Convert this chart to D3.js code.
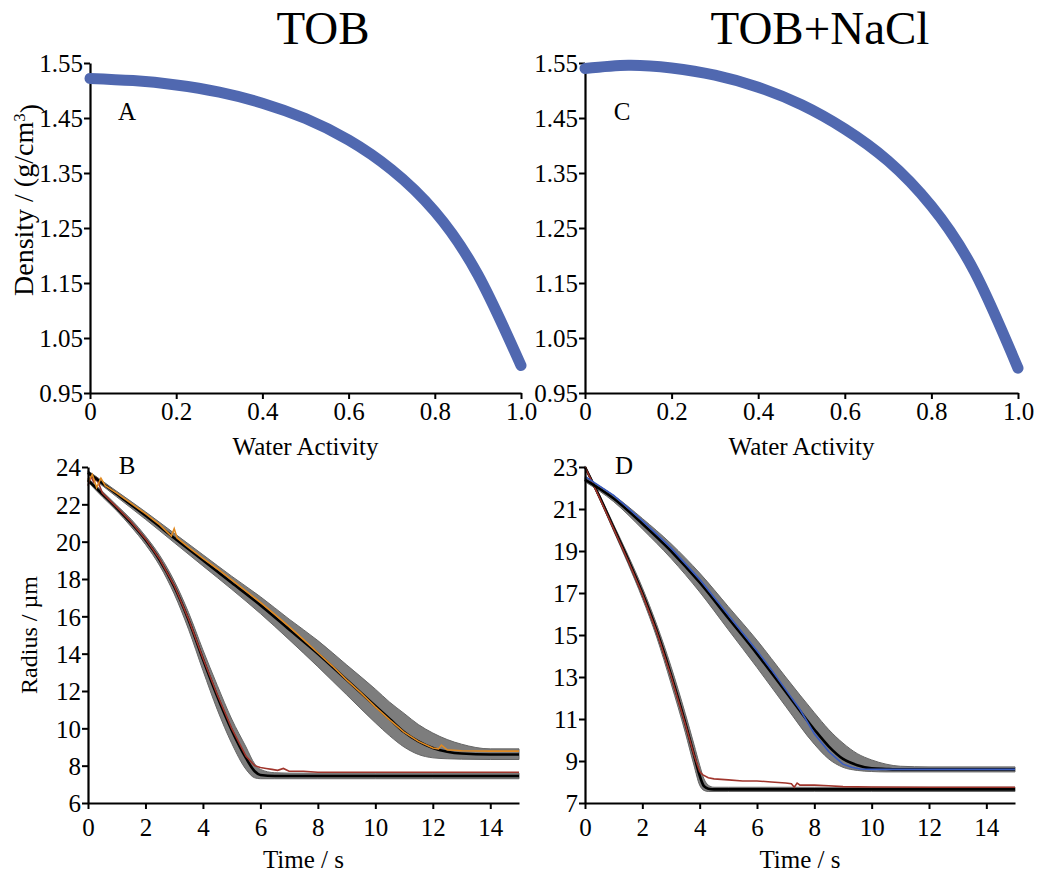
<!DOCTYPE html>
<html>
<head>
<meta charset="utf-8">
<script src="https://cdn.jsdelivr.net/npm/d3@7"></script>
<style>
  html, body { margin: 0; padding: 0; background: #fff; }
  svg { display: block; }
  text { font-family: "Liberation Serif", "Times New Roman", serif; fill: #000; }
</style>
</head>
<body>
<svg id="fig" width="1037" height="872"></svg>
<script>
// ---- Density vs water activity ----
const awTOB = [0, 0.1, 0.2, 0.3, 0.4, 0.5, 0.6, 0.7, 0.8, 0.9, 1.0];
const densTOB = [1.522, 1.518, 1.510, 1.497, 1.477, 1.449, 1.410, 1.356, 1.280, 1.165, 1.000];
const awNaCl = [0, 0.1, 0.2, 0.3, 0.4, 0.5, 0.6, 0.7, 0.8, 0.9, 1.0];
const densNaCl = [1.540, 1.546, 1.541, 1.528, 1.506, 1.474, 1.430, 1.372, 1.290, 1.170, 0.995];
const densTicks = [0.95, 1.05, 1.15, 1.25, 1.35, 1.45, 1.55];
const awTicks = [0, 0.2, 0.4, 0.6, 0.8, 1.0];
const awTickLabels = ["0", "0.2", "0.4", "0.6", "0.8", "1.0"];

// ---- Panel B: TOB radius vs time ----
const tB_fast = [0, 0.5, 1, 1.5, 2, 2.5, 3, 3.5, 4, 4.5, 5, 5.5, 5.8, 6, 6.5, 7, 8, 10, 12, 15];
const rB_fastFit = [23.3, 22.55, 21.8, 21.0, 20.1, 19.0, 17.6, 15.8, 13.7, 11.7, 9.9, 8.4, 7.7, 7.5, 7.45, 7.45, 7.45, 7.45, 7.45, 7.45];
const rB_fastHi = [23.4, 22.7, 21.95, 21.2, 20.3, 19.25, 17.9, 16.2, 14.2, 12.3, 10.5, 9.0, 8.1, 7.8, 7.62, 7.6, 7.6, 7.6, 7.6, 7.6];
const rB_fastLo = [23.2, 22.4, 21.65, 20.8, 19.85, 18.7, 17.2, 15.3, 13.1, 11.0, 9.2, 7.8, 7.35, 7.3, 7.3, 7.3, 7.3, 7.3, 7.3, 7.3];
const tB_fastExp = [0, 0.1, 0.2, 0.3, 0.5, 1, 1.5, 2, 2.5, 3, 3.5, 4, 4.5, 5, 5.5, 5.8, 6.0, 6.2, 6.4, 6.6, 6.8, 7.0, 7.5, 8, 10, 12, 15];
const rB_fastExp = [23.0, 23.5, 23.2, 23.4, 22.6, 21.85, 21.05, 20.15, 19.05, 17.65, 15.85, 13.75, 11.8, 10.0, 8.5, 8.0, 7.9, 7.85, 7.8, 7.75, 7.85, 7.7, 7.7, 7.65, 7.65, 7.65, 7.65];

const tB_slow = [0, 1, 2, 3, 4, 5, 6, 7, 8, 9, 10, 10.5, 11, 11.5, 12, 12.5, 13, 14, 15];
const rB_slowFit = [23.7, 22.55, 21.4, 20.2, 19.0, 17.8, 16.6, 15.3, 14.0, 12.6, 11.2, 10.5, 9.8, 9.3, 8.95, 8.75, 8.65, 8.6, 8.6];
const rB_slowHi = [23.8, 22.7, 21.6, 20.45, 19.3, 18.15, 17.05, 15.85, 14.7, 13.4, 12.1, 11.4, 10.8, 10.2, 9.75, 9.4, 9.15, 8.9, 8.9];
const rB_slowLo = [23.6, 22.4, 21.2, 19.95, 18.7, 17.45, 16.15, 14.75, 13.3, 11.8, 10.3, 9.6, 9.0, 8.6, 8.42, 8.37, 8.35, 8.33, 8.33];
const tB_slowExp = [0, 0.15, 0.3, 0.45, 0.6, 1, 1.5, 2, 2.5, 2.9, 3.0, 3.1, 3.5, 4, 4.5, 5, 5.5, 6, 6.5, 7, 7.5, 8, 8.5, 9, 9.5, 10, 10.5, 11, 11.5, 12, 12.2, 12.3, 12.5, 13, 14, 15];
const rB_slowExp = [23.2, 23.6, 22.9, 23.4, 23.0, 22.6, 22.05, 21.5, 20.9, 20.3, 20.7, 20.2, 19.7, 19.1, 18.55, 17.95, 17.35, 16.75, 16.1, 15.45, 14.75, 14.05, 13.35, 12.6, 11.9, 11.15, 10.45, 9.8, 9.3, 8.95, 8.9, 9.1, 8.85, 8.8, 8.78, 8.78];
const radiusTicksB = [6, 8, 10, 12, 14, 16, 18, 20, 22, 24];

// ---- Panel D: TOB+NaCl radius vs time ----
const tD_fast = [0, 0.5, 1, 1.5, 2, 2.5, 3, 3.5, 3.8, 4.0, 4.15, 4.3, 4.5, 5, 6, 8, 10, 15];
const rD_fastFit = [23.0, 21.6, 20.1, 18.6, 17.0, 15.2, 13.1, 10.8, 9.3, 8.3, 7.8, 7.68, 7.65, 7.65, 7.65, 7.65, 7.65, 7.65];
const rD_fastHi = [23.05, 21.7, 20.25, 18.8, 17.25, 15.5, 13.5, 11.25, 9.8, 8.8, 8.15, 7.85, 7.75, 7.75, 7.75, 7.75, 7.75, 7.75];
const rD_fastLo = [22.95, 21.5, 19.95, 18.4, 16.75, 14.9, 12.7, 10.35, 8.8, 7.85, 7.6, 7.55, 7.55, 7.55, 7.55, 7.55, 7.55, 7.55];
const tD_fastExp = [0, 0.5, 1, 1.5, 2, 2.5, 3, 3.5, 3.8, 4.0, 4.1, 4.3, 4.5, 5, 5.5, 6, 6.5, 7, 7.2, 7.3, 7.4, 7.5, 8, 8.5, 9, 10, 12, 15];
const rD_fastExp = [23.0, 21.55, 20.05, 18.55, 16.95, 15.15, 13.05, 10.75, 9.3, 8.5, 8.35, 8.2, 8.15, 8.1, 8.05, 8.05, 8.0, 7.95, 7.92, 7.75, 7.95, 7.85, 7.85, 7.82, 7.78, 7.76, 7.75, 7.75];

const tD_slow = [0, 1, 2, 3, 4, 5, 6, 7, 8, 8.5, 9, 9.5, 10, 10.5, 11, 12, 15];
const rD_slowFit = [22.4, 21.5, 20.3, 19.0, 17.5, 15.8, 14.1, 12.3, 10.5, 9.7, 9.1, 8.8, 8.65, 8.62, 8.6, 8.6, 8.6];
const rD_slowHi = [22.5, 21.65, 20.55, 19.35, 17.95, 16.35, 14.75, 13.0, 11.3, 10.5, 9.85, 9.35, 9.05, 8.85, 8.75, 8.72, 8.72];
const rD_slowLo = [22.3, 21.35, 20.05, 18.65, 17.05, 15.25, 13.45, 11.6, 9.8, 9.1, 8.7, 8.55, 8.5, 8.48, 8.48, 8.48, 8.48];
const tD_slowExp = [0, 0.5, 1, 1.5, 2, 2.5, 3, 3.5, 4, 4.5, 5, 5.5, 6, 6.5, 7, 7.5, 8, 8.5, 9, 9.3, 9.6, 10, 11, 12, 15];
const rD_slowExp = [22.55, 22.1, 21.65, 21.05, 20.45, 19.8, 19.15, 18.4, 17.65, 16.8, 15.95, 15.1, 14.25, 13.35, 12.4, 11.45, 10.3, 9.45, 8.85, 8.7, 8.62, 8.6, 8.6, 8.6, 8.6];
const radiusTicksD = [7, 9, 11, 13, 15, 17, 19, 21, 23];
const timeTicks = [0, 2, 4, 6, 8, 10, 12, 14];

const svg = d3.select("#fig");
const zip = (xs, ys) => xs.map((x, i) => [x, ys[i]]);

function axes(g, x, y, xTicks, xFmt, yTicks, yFmt, xPad) {
  const ax = g.append("g").attr("transform", `translate(0,${y.range()[0]})`)
    .call(d3.axisBottom(x).tickValues(xTicks).tickFormat(xFmt).tickSize(6).tickSizeOuter(0).tickPadding(xPad));
  const ay = g.append("g").attr("transform", `translate(${x.range()[0]},0)`)
    .call(d3.axisLeft(y).tickValues(yTicks).tickFormat(yFmt).tickSize(6).tickSizeOuter(0).tickPadding(1));
  [ax, ay].forEach(a => {
    a.select(".domain").attr("stroke", "#000").attr("stroke-width", 2.2);
    a.selectAll(".tick line").attr("stroke", "#000").attr("stroke-width", 2);
    a.selectAll(".tick text").style("font-family", "Liberation Serif, serif").style("font-size", "25px").attr("fill", "#000");
  });
  ay.selectAll(".tick text").attr("dy", "0.35em");
  ax.selectAll(".tick text").attr("dy", "0.65em");
}

function densityPanel(x0, x1, aw, dens, letter) {
  const x = d3.scaleLinear().domain([0, 1]).range([x0, x1]);
  const y = d3.scaleLinear().domain([0.95, 1.55]).range([393, 63]);
  const g = svg.append("g");
  axes(g, x, y, awTicks, (d, i) => awTickLabels[i], densTicks, d3.format(".2f"), 5);
  g.append("path")
    .datum(zip(aw, dens))
    .attr("fill", "none").attr("stroke", "#5068b0").attr("stroke-width", 11)
    .attr("stroke-linecap", "round")
    .attr("d", d3.line().x(d => x(d[0])).y(d => y(d[1])).curve(d3.curveNatural));
  g.append("text").attr("x", x0 + 37).attr("y", 120).attr("text-anchor", "middle")
    .style("font-size", "25px").text(letter);
  g.append("text").attr("x", (x0 + x1) / 2).attr("y", 455).attr("text-anchor", "middle")
    .style("font-size", "25px").text("Water Activity");
  return { x, y };
}

function radiusPanel(x0, x1, yDom, yRange, yTicks, letter, series) {
  const x = d3.scaleLinear().domain([0, 15]).range([x0, x1]);
  const y = d3.scaleLinear().domain(yDom).range(yRange);
  const g = svg.append("g");
  const area = d3.area().x(d => x(d[0])).y0(d => y(d[1])).y1(d => y(d[2])).curve(d3.curveMonotoneX);
  const smooth = d3.line().x(d => x(d[0])).y(d => y(d[1])).curve(d3.curveMonotoneX);
  const raw = d3.line().x(d => x(d[0])).y(d => y(d[1]));
  series.forEach(s => {
    g.append("path").datum(s.t.map((t, i) => [t, s.lo[i], s.hi[i]]))
      .attr("fill", "#7d7d7d").attr("stroke", "#666").attr("stroke-width", 1).attr("d", area);
  });
  series.forEach(s => {
    g.append("path").datum(zip(s.t, s.fit))
      .attr("fill", "none").attr("stroke", "#000").attr("stroke-width", 2.6).attr("d", smooth);
    g.append("path").datum(zip(s.te, s.exp))
      .attr("fill", "none").attr("stroke", s.color).attr("stroke-width", 1.6).attr("d", raw);
  });
  axes(g, x, y, timeTicks, d3.format("d"), yTicks, d3.format("d"), 11);
  g.append("text").attr("x", x0 + 39).attr("y", 474).attr("text-anchor", "middle")
    .style("font-size", "25px").text(letter);
  g.append("text").attr("x", (x0 + x1) / 2).attr("y", 868).attr("text-anchor", "middle")
    .style("font-size", "25px").text("Time / s");
}

// Titles
svg.append("text").attr("x", 323).attr("y", 44).attr("text-anchor", "middle").style("font-size", "47px").text("TOB");
svg.append("text").attr("x", 820).attr("y", 44).attr("text-anchor", "middle").style("font-size", "47px").text("TOB+NaCl");

densityPanel(90, 521, awTOB, densTOB, "A");
densityPanel(585, 1018, awNaCl, densNaCl, "C");

radiusPanel(88, 519, [6, 24], [803, 467], radiusTicksB, "B", [
  { t: tB_fast, fit: rB_fastFit, hi: rB_fastHi, lo: rB_fastLo, te: tB_fastExp, exp: rB_fastExp, color: "#a0352c" },
  { t: tB_slow, fit: rB_slowFit, hi: rB_slowHi, lo: rB_slowLo, te: tB_slowExp, exp: rB_slowExp, color: "#e08a22" }
]);
radiusPanel(585, 1015, [7, 23], [803, 467], radiusTicksD, "D", [
  { t: tD_fast, fit: rD_fastFit, hi: rD_fastHi, lo: rD_fastLo, te: tD_fastExp, exp: rD_fastExp, color: "#a0352c" },
  { t: tD_slow, fit: rD_slowFit, hi: rD_slowHi, lo: rD_slowLo, te: tD_slowExp, exp: rD_slowExp, color: "#3a5cc0" }
]);

// Y-axis titles
const yt1 = svg.append("text").attr("transform", "translate(33,200) rotate(-90)").attr("text-anchor", "middle").style("font-size", "28px");
yt1.append("tspan").text("Density / (g/cm");
yt1.append("tspan").attr("dy", "-0.5em").style("font-size", "17px").text("3");
yt1.append("tspan").attr("dy", "0.5em").text(")");
svg.append("text").attr("transform", "translate(37,635) rotate(-90)").attr("text-anchor", "middle")
  .style("font-size", "24px").text("Radius / µm");
</script>
</body>
</html>
